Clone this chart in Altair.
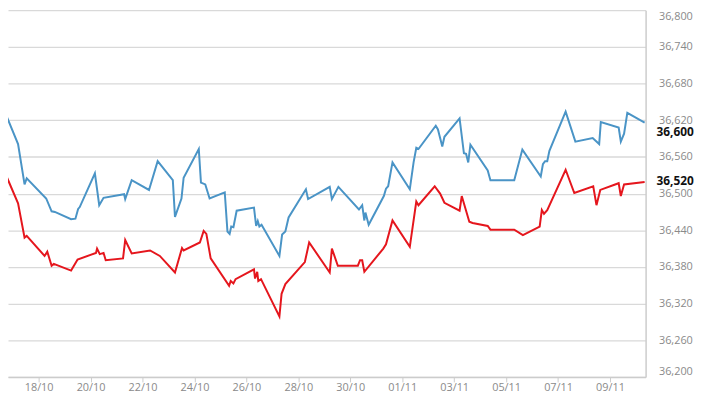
import altair as alt
import pandas as pd

YEAR = "2023-"

blue_times = [
    "10-16 12:00", "10-17 05:00", "10-17 11:00", "10-17 13:00", "10-18 07:00", "10-18 12:00",
    "10-18 15:00", "10-19 06:00", "10-19 10:00", "10-19 12:30", "10-19 14:00", "10-20 04:00",
    "10-20 08:00", "10-20 12:00", "10-21 07:00", "10-21 08:00", "10-21 14:00", "10-22 06:00",
    "10-22 14:00", "10-23 04:00", "10-23 06:00", "10-23 12:00", "10-23 14:00", "10-24 04:00",
    "10-24 06:00", "10-24 10:00", "10-24 14:00", "10-25 04:00", "10-25 06:30", "10-25 08:30",
    "10-25 10:00", "10-25 12:00", "10-25 15:00", "10-26 07:00", "10-26 09:00", "10-26 10:30",
    "10-26 12:00", "10-26 14:00", "10-27 06:30", "10-27 09:00", "10-27 12:00", "10-27 15:00",
    "10-28 07:00", "10-28 09:00", "10-29 05:00", "10-29 07:00", "10-29 13:00", "10-30 08:00",
    "10-30 11:00", "10-30 13:00", "10-30 14:00", "10-30 17:00", "10-31 07:00", "10-31 09:00",
    "10-31 11:00", "10-31 15:00", "11-01 07:00", "11-01 10:30", "11-01 13:00", "11-01 15:00",
    "11-02 07:00", "11-02 09:00", "11-02 13:00", "11-02 15:00", "11-03 05:00", "11-03 09:00",
    "11-03 11:00", "11-03 13:00", "11-03 15:00", "11-04 07:00", "11-04 09:30", "11-05 07:30",
    "11-05 15:00", "11-06 08:00", "11-06 10:00", "11-06 12:00", "11-06 14:00", "11-06 16:00",
    "11-07 07:00", "11-07 16:00", "11-08 08:00", "11-08 14:00", "11-08 15:30", "11-09 08:00",
    "11-09 10:00", "11-09 13:00", "11-09 16:00", "11-10 08:00",
]
blue_values = [
    36654, 36581, 36515, 36525, 36492, 36471,
    36470, 36458, 36459, 36475, 36478, 36533,
    36481, 36493, 36499, 36491, 36522, 36506,
    36553, 36522, 36462, 36492, 36526, 36573,
    36518, 36515, 36492, 36502, 36438, 36434,
    36446, 36445, 36472, 36477, 36447, 36455,
    36446, 36449, 36398, 36433, 36438, 36461,
    36507, 36491, 36511, 36491, 36511, 36474,
    36481, 36456, 36469, 36449, 36496, 36508,
    36512, 36551, 36507, 36551, 36575, 36573,
    36611, 36605, 36577, 36593, 36623, 36566,
    36565, 36551, 36580, 36538, 36522, 36522,
    36572, 36528, 36548, 36553, 36553, 36570,
    36634, 36585, 36591, 36581, 36617, 36608,
    36585, 36598, 36632, 36616,
]

red_times = [
    "10-16 12:00", "10-16 14:00", "10-17 05:00", "10-17 11:00", "10-17 13:00", "10-18 05:30",
    "10-18 08:00", "10-18 12:00", "10-18 14:00", "10-19 06:00", "10-19 12:00", "10-20 05:00",
    "10-20 06:00", "10-20 08:30", "10-20 12:00", "10-20 14:00", "10-21 06:00", "10-21 08:00",
    "10-21 14:00", "10-22 07:00", "10-22 16:00", "10-23 06:00", "10-23 12:30", "10-23 14:00",
    "10-24 05:00", "10-24 08:30", "10-24 11:00", "10-24 15:00", "10-25 08:00", "10-25 09:30",
    "10-25 12:00", "10-25 14:00", "10-26 07:00", "10-26 08:00", "10-26 10:00", "10-26 11:00",
    "10-26 13:30", "10-27 06:30", "10-27 08:30", "10-27 12:00", "10-28 06:00", "10-28 10:00",
    "10-29 05:00", "10-29 07:00", "10-29 12:30", "10-30 07:00", "10-30 09:00", "10-30 11:00",
    "10-30 13:00", "10-31 06:30", "10-31 09:00", "10-31 15:00", "11-01 07:00", "11-01 13:00",
    "11-01 15:00", "11-02 06:00", "11-02 11:00", "11-02 15:00", "11-03 05:00", "11-03 07:00",
    "11-03 14:00", "11-03 17:00", "11-04 07:00", "11-04 09:30", "11-05 07:30", "11-05 15:30",
    "11-06 07:00", "11-06 09:00", "11-06 11:00", "11-06 14:00", "11-07 07:00", "11-07 15:00",
    "11-08 08:30", "11-08 11:30", "11-08 15:00", "11-09 08:00", "11-09 10:00", "11-09 13:00",
    "11-10 08:00",
]
red_values = [
    36562, 36546, 36484, 36428, 36431, 36398,
    36405, 36382, 36385, 36374, 36392, 36403,
    36410, 36401, 36403, 36391, 36394, 36424,
    36402, 36407, 36398, 36371, 36411, 36407,
    36420, 36439, 36434, 36394, 36349, 36357,
    36353, 36360, 36376, 36361, 36372, 36357,
    36360, 36299, 36336, 36352, 36388, 36420,
    36371, 36410, 36382, 36382, 36391, 36391,
    36372, 36410, 36417, 36456, 36413, 36487,
    36481, 36512, 36500, 36485, 36472, 36496,
    36454, 36452, 36447, 36441, 36441, 36432,
    36446, 36473, 36467, 36473, 36539, 36501,
    36512, 36481, 36506, 36517, 36496, 36515,
    36519,
]

x_tick_dates = ["10-18", "10-20", "10-22", "10-24", "10-26", "10-28", "10-30",
                "11-01", "11-03", "11-05", "11-07", "11-09"]
y_ticks = [36200, 36260, 36320, 36380, 36440, 36500, 36560, 36620, 36680, 36740, 36800]
last_labels = [36600, 36520]
series_names = ["buy", "sell"]
series_colors = ["#4a94c6", "#e5161d"]

W, H = 645, 371


def dt(s, h=0, m=0):
    mo, d = s.split(" ")[0].split("-")
    return alt.DateTime(year=2023, month=int(mo), date=int(d), hours=h, minutes=m)


df = pd.concat([
    pd.DataFrame({"t": [YEAR + t for t in blue_times], "v": blue_values, "s": series_names[0]}),
    pd.DataFrame({"t": [YEAR + t for t in red_times], "v": red_values, "s": series_names[1]}),
])

x_enc = alt.X(
    "t:T",
    scale=alt.Scale(domain=[dt("10-16", 19, 42), dt("11-10", 8, 54)]),
    axis=alt.Axis(
        values=[dt(d) for d in x_tick_dates], format="%d/%m", title=None, grid=False,
        tickSize=5, tickColor="#cccccc", tickWidth=1, domainColor="#cccccc", domainWidth=1.5,
        labelColor="#8a8a8a", labelFont="Open Sans", labelFontSize=11, labelPadding=0,
        labelFlush=False, labelOverlap=False,
    ),
)
y_enc = alt.Y(
    "v:Q",
    scale=alt.Scale(domain=[36200, 36800], nice=False, zero=False),
    axis=alt.Axis(
        orient="right", values=y_ticks, format=",d", title=None, grid=True,
        gridColor="#d9d9d9", gridWidth=1.3, ticks=False, labelPadding=13,
        labelColor="#8a8a8a", labelFont="Open Sans", labelFontSize=11,
        domainColor="#cccccc", domainWidth=1.5, labelFlush=True,
    ),
)

lines = alt.Chart(df).mark_line(clip=True, strokeWidth=2).encode(
    x=x_enc,
    y=y_enc,
    color=alt.Color("s:N", scale=alt.Scale(domain=series_names, range=series_colors), legend=None),
)

labels = alt.Chart(pd.DataFrame({"v": last_labels})).mark_text(
    align="left", baseline="middle", font="Open Sans", fontSize=12, fontWeight="bold", color="#111111"
).encode(
    y=y_enc,
    x=alt.value(W + 11),
    text=alt.Text("v:Q", format=",d"),
)

chart = alt.layer(lines, labels).properties(
    width=W, height=H,
    autosize=alt.AutoSizeParams(type="none"),
    padding={"left": 0, "top": 0, "right": 53, "bottom": 16},
    background="white",
).configure_view(stroke=None)

chart.save("out.html", embed_options={"renderer": "svg", "actions": False})
